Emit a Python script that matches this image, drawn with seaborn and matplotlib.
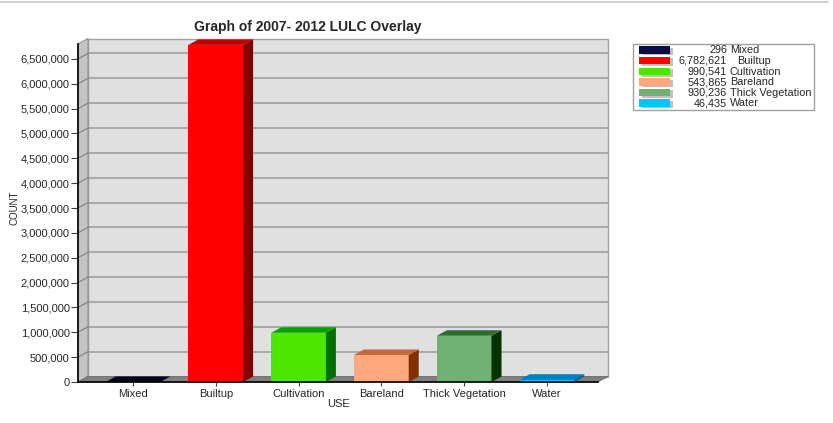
import matplotlib
matplotlib.use("Agg")
import matplotlib.pyplot as plt
import seaborn as sns
import numpy as np
import pandas as pd
from matplotlib.patches import Polygon, Rectangle
from matplotlib.lines import Line2D
from matplotlib.ticker import FuncFormatter

# ---- data ----
categories = ["Mixed", "Builtup", "Cultivation", "Bareland", "Thick Vegetation", "Water"]
counts = [296, 6782621, 990541, 543865, 930236, 46435]
y_ticks = list(range(0, 6500001, 500000))
title = "Graph of 2007- 2012 LULC Overlay"

# ---- styles ----
front_colors = ["#0b0c45", "#ff0000", "#4ce600", "#ffa77f", "#70b072", "#00c5ff"]
top_colors = ["#05051a", "#c00000", "#09a000", "#c4683f", "#2f6b32", "#0080c0"]
side_colors = ["#000010", "#800000", "#007000", "#803000", "#003300", "#0060a0"]

sns.set_style("white")
plt.rcParams["font.family"] = ["Liberation Sans", "DejaVu Sans"]

W, H = 833, 423
fig = plt.figure(figsize=(W / 100, H / 100), dpi=100)
fig.patch.set_facecolor("white")

# axes = front face region
ax = fig.add_axes([78 / W, 1 - 382 / H, (598 - 78) / W, (382 - 44) / H])
ax.set_facecolor("none")

df = pd.DataFrame({"USE": categories, "COUNT": counts})
sns.barplot(data=df, x="USE", y="COUNT", hue="USE", palette=front_colors,
            width=0.66, saturation=1, legend=False, ax=ax, zorder=5)

xlo, xhi = -0.664, 5.616
ytop = 6.8e6
ax.set_xlim(xlo, xhi)
ax.set_ylim(0, ytop)

# depth offsets in data units
DX_PX, DY_PX = 10.0, 5.5
ax_w_px = 598 - 78
ax_h_px = 382 - 44
dxd = DX_PX * (xhi - xlo) / ax_w_px
dyd = DY_PX * ytop / ax_h_px

bars = [pp for pp in ax.patches if pp.get_zorder() == 5]

# back wall
ax.add_patch(Rectangle((xlo + dxd, dyd), xhi - xlo, ytop, facecolor="#e0e0e0",
                       edgecolor="#a0a0a0", lw=1, clip_on=False, zorder=0))
for t in y_ticks:
    ax.add_line(Line2D([xlo + dxd, xhi + dxd], [t + dyd, t + dyd], color="#a0a0a0",
                       lw=1.2, clip_on=False, zorder=1))
# left wall
ax.add_patch(Polygon([(xlo, 0), (xlo + dxd, dyd), (xlo + dxd, ytop + dyd), (xlo, ytop)],
                     closed=True, facecolor="#c4c4c4", edgecolor="#909090", lw=0.8,
                     clip_on=False, zorder=2))
for t in y_ticks:
    ax.add_line(Line2D([xlo, xlo + dxd], [t, t + dyd], color="#808080",
                       lw=0.8, clip_on=False, zorder=2))
# floor
ax.add_patch(Polygon([(xlo, 0), (xhi, 0), (xhi + dxd, dyd), (xlo + dxd, dyd)],
                     closed=True, facecolor="#808080", edgecolor="#707070", lw=0.6,
                     clip_on=False, zorder=3))

# 3D faces for bars
for i, p in enumerate(bars):
    x0 = p.get_x()
    w = p.get_width()
    h = p.get_height()
    p.set_edgecolor("none")
    p.set_clip_on(False)
    ax.add_patch(Polygon([(x0 + w, 0), (x0 + w + dxd, dyd), (x0 + w + dxd, h + dyd), (x0 + w, h)],
                         closed=True, facecolor=side_colors[i], edgecolor="none",
                         clip_on=False, zorder=5))
    ax.add_patch(Polygon([(x0, h), (x0 + w, h), (x0 + w + dxd, h + dyd), (x0 + dxd, h + dyd)],
                         closed=True, facecolor=top_colors[i], edgecolor="none",
                         clip_on=False, zorder=5))

# spines / ticks
for s in ["top", "right"]:
    ax.spines[s].set_visible(False)
for s in ["left", "bottom"]:
    ax.spines[s].set_color("black")
    ax.spines[s].set_linewidth(1.2)
    ax.spines[s].set_zorder(6)
ax.set_yticks(y_ticks)
ax.yaxis.set_major_formatter(FuncFormatter(lambda v, pos: f"{int(v):,}"))
ax.tick_params(axis="y", direction="out", length=5, width=0.8, color="#404040",
               labelsize=8, pad=1, left=True)
ax.tick_params(axis="x", direction="out", length=3, width=0.8, color="#404040",
               labelsize=8, pad=2, bottom=True)
ax.set_xlabel("USE", fontsize=8, labelpad=0)
ax.set_ylabel("")
fig.text(14 / W, 1 - 208 / H, "COUNT", rotation=90, fontsize=7, ha="center", va="center")
ax.grid(False)

# title
fig.text(308 / W, 1 - 27 / H, title, fontsize=10, fontweight="bold", ha="center", va="center")

# top border line
fig.add_artist(Line2D([0, 828 / W], [1 - 2.5 / H, 1 - 2.5 / H], color="#c8c8c8", lw=1.2,
                      transform=fig.transFigure))

# legend (manual)
lx0, ly0, lx1, ly1 = 633, 44, 814, 110
fig.add_artist(Rectangle((lx0 / W, 1 - ly1 / H), (lx1 - lx0) / W, (ly1 - ly0) / H,
                         transform=fig.transFigure, facecolor="white", edgecolor="#a0a0a0", lw=1))
row_y = [50, 60.5, 71.5, 82, 92.5, 103]
for i, (name, c) in enumerate(zip(categories, counts)):
    yc = row_y[i]
    fig.add_artist(Rectangle((642 / W, 1 - (yc + 5.5) / H), 31 / W, 7.5 / H,
                             transform=fig.transFigure, facecolor="#c0c0c0", edgecolor="none"))
    fig.add_artist(Rectangle((639 / W, 1 - (yc + 3.8) / H), 31 / W, 7.5 / H,
                             transform=fig.transFigure, facecolor=front_colors[i], edgecolor="none"))
    fig.text(727 / W, 1 - (yc + 3.3) / H, f"{c:,}", fontsize=7.8, ha="right", va="baseline")
    fig.text((737 if name == "Builtup" else 730) / W, 1 - (yc + 3.3) / H, name, fontsize=7.8,
             ha="left", va="baseline")

fig.savefig("out.png", dpi=100)
